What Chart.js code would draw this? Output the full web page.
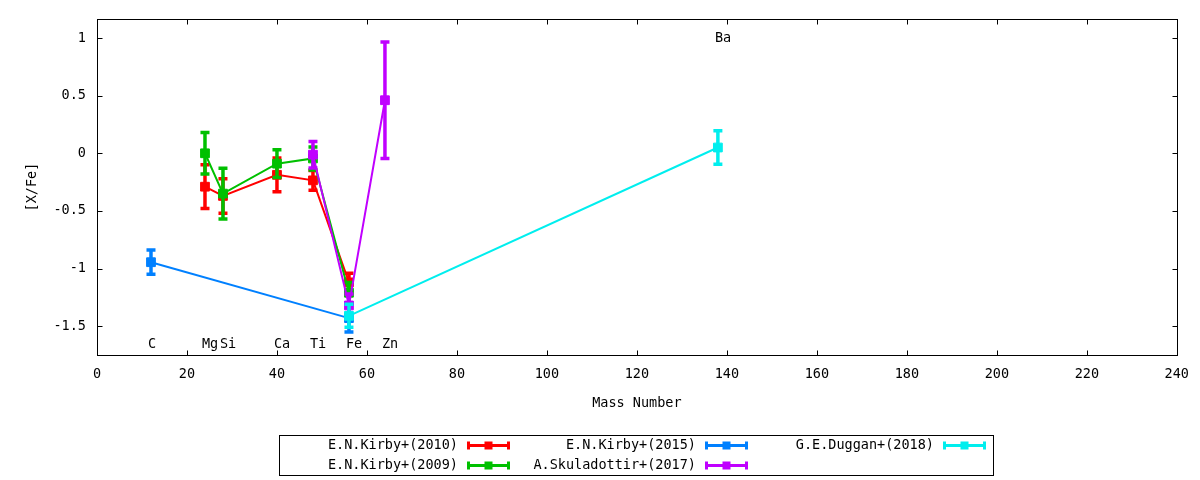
<!DOCTYPE html>
<html>
<head>
<meta charset="utf-8">
<script src="https://cdn.jsdelivr.net/npm/chart.js@4.4.1/dist/chart.umd.min.js"></script>
<style>
html,body{margin:0;padding:0;background:#ffffff;}
#wrap{width:1200px;height:480px;position:relative;}
canvas{display:block;}
</style>
</head>
<body>
<div id="wrap"><canvas id="c" width="1200" height="480"></canvas></div>
<script>
// ---- data ----
const elementNames = ['C', 'Mg', 'Si', 'Ca', 'Ti', 'Fe', 'Zn', 'Ba'];
const elementMass = [12, 24, 28, 40, 48, 56, 64, 138];
const elementLabelY = [-1.655, -1.655, -1.655, -1.655, -1.655, -1.655, -1.655, 1.0];

const xTicks = [0, 20, 40, 60, 80, 100, 120, 140, 160, 180, 200, 220, 240];
const yTicks = [-1.5, -1, -0.5, 0, 0.5, 1];

const seriesNames = ['E.N.Kirby+(2010)', 'E.N.Kirby+(2009)', 'E.N.Kirby+(2015)', 'A.Skuladottir+(2017)', 'G.E.Duggan+(2018)'];

const kirby2010Mass = [24, 28, 40, 48, 56];
const kirby2010Val = [-0.29, -0.37, -0.187, -0.235, -1.12];
const kirby2010Err = [0.19, 0.15, 0.147, 0.085, 0.08];

const kirby2009Mass = [24, 28, 40, 48, 56];
const kirby2009Val = [0.0, -0.35, -0.09, -0.045, -1.21];
const kirby2009Err = [0.18, 0.22, 0.12, 0.10, 0.09];

const kirby2015Mass = [12, 56];
const kirby2015Val = [-0.945, -1.43];
const kirby2015Err = [0.105, 0.12];

const skul2017Mass = [48, 56, 64];
const skul2017Val = [-0.012, -1.32, 0.46];
const skul2017Err = [0.115, 0.10, 0.505];

const duggan2018Mass = [56, 138];
const duggan2018Val = [-1.41, 0.05];
const duggan2018Err = [0.10, 0.145];

// ---- styling / build ----
const FONT = 'DejaVu Sans Mono';
const FSIZE = 13.5;
const seriesColors = ['#ff0000', '#00c000', '#0080ff', '#c000ff', '#00eeee'];
const AREA = { left: 97, top: 17, right: 1177, bottom: 355 };

function pts(xs, ys) { return xs.map((x, i) => ({x: x, y: ys[i]})); }

const seriesData = [
  [kirby2010Mass, kirby2010Val, kirby2010Err],
  [kirby2009Mass, kirby2009Val, kirby2009Err],
  [kirby2015Mass, kirby2015Val, kirby2015Err],
  [skul2017Mass, skul2017Val, skul2017Err],
  [duggan2018Mass, duggan2018Val, duggan2018Err]
];

const datasets = seriesData.map((s, i) => ({
  label: seriesNames[i],
  data: pts(s[0], s[1]),
  errors: s[2],
  borderColor: seriesColors[i],
  backgroundColor: seriesColors[i],
  pointBackgroundColor: seriesColors[i],
  pointBorderColor: seriesColors[i],
  borderWidth: 2,
  pointStyle: 'rect',
  pointRadius: 6.2,
  pointBorderWidth: 1,
  showLine: true,
  fill: false,
  tension: 0,
  order: seriesData.length - 1 - i
}));

const errorBarPlugin = {
  id: 'errorBars',
  afterDatasetDraw(chart, args) {
    const ds = chart.data.datasets[args.index];
    if (!ds.errors) return;
    const xs = chart.scales.x, ys = chart.scales.y, ctx = chart.ctx;
    const a = chart.chartArea;
    ctx.save();
    ctx.beginPath();
    ctx.rect(a.left, a.top, a.right - a.left, a.bottom - a.top);
    ctx.clip();
    ctx.strokeStyle = ds.borderColor;
    ctx.lineCap = 'butt';
    ds.data.forEach((p, i) => {
      const e = ds.errors[i];
      const px = xs.getPixelForValue(p.x);
      const y1 = ys.getPixelForValue(p.y + e);
      const y2 = ys.getPixelForValue(p.y - e);
      ctx.lineWidth = 3.5;
      ctx.beginPath();
      ctx.moveTo(px, y1); ctx.lineTo(px, y2);
      ctx.stroke();
      ctx.lineWidth = 3.5;
      ctx.beginPath();
      ctx.moveTo(px - 4.5, y1); ctx.lineTo(px + 4.5, y1);
      ctx.moveTo(px - 4.5, y2); ctx.lineTo(px + 4.5, y2);
      ctx.stroke();
    });
    ctx.restore();
  }
};

const framePlugin = {
  id: 'frame',
  afterDraw(chart) {
    const ctx = chart.ctx, a = chart.chartArea;
    const xs = chart.scales.x, ys = chart.scales.y;
    ctx.save();
    // element labels
    ctx.fillStyle = '#000';
    ctx.font = FSIZE + 'px "' + FONT + '"';
    ctx.textAlign = 'left';
    ctx.textBaseline = 'middle';
    elementNames.forEach((n, i) => {
      ctx.fillText(n, xs.getPixelForValue(elementMass[i]) - 3, ys.getPixelForValue(elementLabelY[i]));
    });
    // frame
    ctx.strokeStyle = '#000';
    ctx.lineWidth = 1;
    const L = Math.round(a.left) + 0.5, R = Math.round(a.right) + 0.5;
    const T = Math.round(a.top) + 0.5, B = Math.round(a.bottom) + 0.5;
    ctx.strokeRect(L, T, R - L, B - T);
    // inward ticks
    ctx.beginPath();
    xTicks.forEach(v => {
      const px = Math.round(xs.getPixelForValue(v)) + 0.5;
      ctx.moveTo(px, B); ctx.lineTo(px, B - 5);
      ctx.moveTo(px, T); ctx.lineTo(px, T + 5);
    });
    yTicks.forEach(v => {
      const py = Math.round(ys.getPixelForValue(v)) + 0.5;
      ctx.moveTo(L, py); ctx.lineTo(L + 5, py);
      ctx.moveTo(R, py); ctx.lineTo(R - 5, py);
    });
    ctx.stroke();
    // legend
    const bx = 279.5, by = 435.5, bw = 714, bh = 40;
    ctx.strokeRect(bx, by, bw, bh);
    ctx.textAlign = 'right';
    const colRight = [458, 696, 934];
    const rowY = [445.5, 465.5];
    seriesNames.forEach((name, i) => {
      const col = Math.floor(i / 2), row = i % 2;
      const tx = colRight[col], ty = rowY[row];
      ctx.fillStyle = '#000';
      ctx.fillText(name, tx, ty);
      const x1 = tx + 9, x2 = tx + 52, c = seriesColors[i];
      ctx.strokeStyle = c;
      ctx.fillStyle = c;
      ctx.lineWidth = 3;
      ctx.beginPath();
      ctx.moveTo(x1, ty); ctx.lineTo(x2, ty);
      ctx.moveTo(x1 + 1.5, ty - 4); ctx.lineTo(x1 + 1.5, ty + 4);
      ctx.moveTo(x2 - 1.5, ty - 4); ctx.lineTo(x2 - 1.5, ty + 4);
      ctx.stroke();
      const mx = (x1 + x2) / 2;
      ctx.fillRect(mx - 4, ty - 4, 8, 8);
    });
    ctx.restore();
  }
};

const cfg = {
  type: 'line',
  data: { datasets: datasets },
  options: {
    responsive: false,
    animation: false,
    devicePixelRatio: 1,
    layout: { padding: { top: 17, right: 23, left: 0, bottom: 0 } },
    plugins: {
      legend: { display: false },
      tooltip: { enabled: false }
    },
    scales: {
      x: {
        type: 'linear',
        min: 0, max: 240,
        afterBuildTicks(scale) { scale.ticks = xTicks.map(v => ({value: v})); },
        afterFit(scale) { scale.height = 125; },
        grid: { display: false, drawTicks: false },
        border: { display: false },
        ticks: {
          color: '#000', padding: 11, maxRotation: 0, autoSkip: false,
          font: { family: FONT, size: FSIZE },
          callback: v => String(v)
        },
        title: {
          display: true, text: 'Mass Number', color: '#000',
          font: { family: FONT, size: FSIZE },
          padding: { top: 0, bottom: 68 }
        }
      },
      y: {
        type: 'linear',
        min: -1.75, max: 1.164,
        afterBuildTicks(scale) { scale.ticks = yTicks.map(v => ({value: v})); },
        afterFit(scale) { scale.width = 97; },
        grid: { display: false, drawTicks: false },
        border: { display: false },
        ticks: {
          color: '#000', padding: 11, autoSkip: false,
          font: { family: FONT, size: FSIZE },
          callback: v => String(v)
        },
        title: {
          display: true, text: '[X/Fe]', color: '#000',
          font: { family: FONT, size: FSIZE },
          padding: { top: 24, bottom: 0 }
        }
      }
    }
  },
  plugins: [errorBarPlugin, framePlugin]
};

const chart = new Chart(document.getElementById('c'), cfg);
// nudge layout padding so the plot area lands on the reference frame
for (let k = 0; k < 3; k++) {
  const a = chart.chartArea, p = chart.options.layout.padding;
  const dt = AREA.top - a.top, dl = AREA.left - a.left;
  const dr = a.right - AREA.right, db = a.bottom - AREA.bottom;
  if (Math.abs(dt) < 0.1 && Math.abs(dl) < 0.1 && Math.abs(dr) < 0.1 && Math.abs(db) < 0.1) break;
  p.top = Math.max(0, p.top + dt);
  p.left = Math.max(0, p.left + dl);
  p.right = Math.max(0, p.right + dr);
  p.bottom = Math.max(0, p.bottom + db);
  chart.update();
}
</script>
</body>
</html>
